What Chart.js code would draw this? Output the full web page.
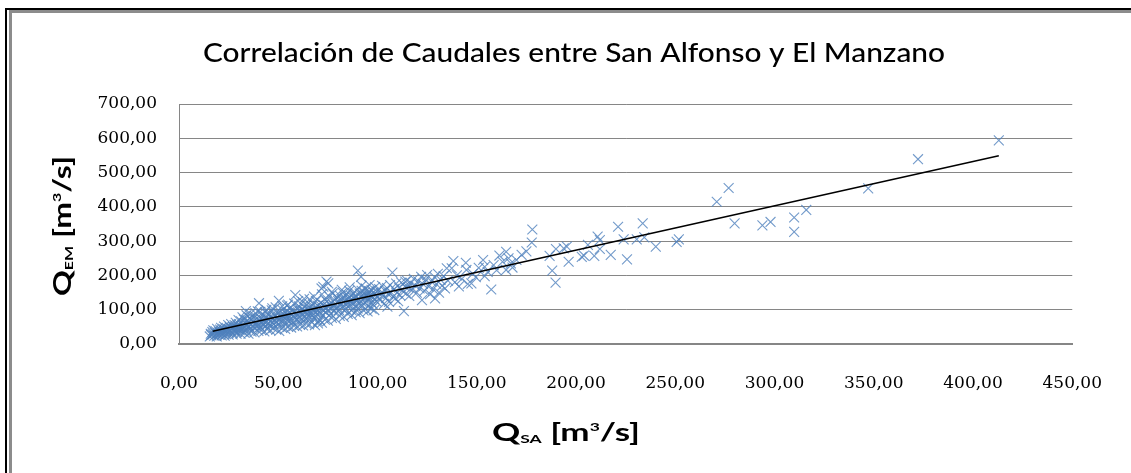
<!DOCTYPE html>
<html>
<head>
<meta charset="utf-8">
<script src="https://cdn.jsdelivr.net/npm/chart.js@4.4.1/dist/chart.umd.min.js"></script>
<style>
  html, body { margin: 0; padding: 0; background: #fff; }
  canvas { display: block; }
</style>
</head>
<body>
<canvas id="qChart" width="1131" height="473"></canvas>
<script>
// Correlación de caudales San Alfonso / El Manzano
// pares [Q_SA, Q_EM] en m3/s, leídos del gráfico por tramos

const tramo15_30 = [
    [15.5,22],[16,30],[16.2,26],[16.8,35],[17,28],[17.3,40],[17.8,24],[18,33],[18.4,38],[18.9,29],
    [19.2,44],[19.6,31],[20,36],[20.3,27],[20.7,42],[21,33],[21.2,47],[21.6,38],[22,30],[22.3,44],
    [22.7,51],[23,36],[23.2,41],[23.6,29],[24,47],[24.3,39],[24.8,55],[25,34],[25.2,43],[25.6,50],
    [26,37],[26.3,58],[26.7,45],[27,32],[27.3,49],[27.7,41],[28,55],[28.2,38],[28.6,62],[29,46],
    [29.3,35],[29.7,52],[30,43],[30.2,58],[30.6,40]
];

const tramo30_50 = [
    [31,48],[31.3,66],[31.6,39],[32,55],[32.3,45],[32.7,71],[33,50],[33.3,61],[33.7,42],[33.7,96],
    [34,57],[34.4,68],[34.8,47],[35,63],[35.3,52],[35.7,76],[36,44],[36.2,59],[36.6,70],[37,53],
    [37.4,65],[37.8,48],[38,82],[38.3,58],[38.7,72],[39,51],[39.3,62],[39.7,95],[40,55],[40.3,119],
    [40.5,68],[41,49],[41.3,74],[41.7,61],[42,85],[42.3,56],[42.7,70],[43,64],[43.4,93],[43.8,52],
    [44,77],[44.3,66],[44.7,59],[45,88],[45.3,71],[45.7,54],[46,80],[46.3,67],[46.7,98],[47,62],
    [47.3,75],[47.7,58],[48,84],[48.3,70],[48.7,107],[49,65],[49.3,78],[49.7,55],[50,90],[50.3,126],
    [50.6,72]
];

const tramo50_70 = [
    [51,63],[51.3,85],[51.7,76],[52,100],[52.4,68],[52.8,88],[53,59],[53.4,81],[53.8,95],[54,73],
    [54.4,112],[54.8,84],[55,66],[55.4,92],[55.8,78],[56,104],[56.4,70],[56.8,87],[57,97],[57.3,62],
    [57.7,82],[58,118],[58.3,76],[58.6,143],[59,90],[59.4,71],[59.8,101],[60,84],[60.4,110],[60.8,77],
    [61,95],[61.4,68],[61.8,102],[62,88],[62.4,122],[62.8,80],[63,97],[63.4,107],[63.8,74],[64,93],
    [64.4,115],[64.8,86],[65,101],[65.4,79],[65.8,130],[66,96],[66.4,88],[66.8,109],[67,83],[67.4,118],
    [67.8,99],[68,76],[68.4,105],[68.8,92],[69,125],[69.4,87],[69.8,112],[70,60],[70.2,98]
];

const tramo70_100 = [
    [70.6,108],[71,70],[71,90],[71.4,120],[71.8,162],[72,101],[72.4,85],[72.7,167],[72.8,114],[73,97],
    [73.4,131],[73.8,106],[74,92],[74.3,182],[74.4,124],[74.8,110],[75.2,177],[75.2,99],[75.6,139],[76,115],
    [76.4,88],[76.8,121],[77,104],[77.4,147],[77.8,112],[78,95],[78.4,128],[78.8,117],[79,102],[79.4,136],
    [79.8,108],[80.2,125],[80.6,99],[81,141],[81.4,115],[81.8,130],[82,106],[82.4,150],[82.8,122],[83,112],
    [83.4,136],[83.8,101],[84,128],[84.4,145],[84.8,118],[85,109],[85.4,133],[85.8,155],[86,124],[86.4,114],
    [86.8,140],[87,98],[87.4,129],[87.8,148],[88,120],[88.4,135],[88.8,110],[89,142],[89.4,126],[89.8,160],
    [90,104],[90.1,214],[90.3,130],[90.7,117],[91,147],[91.4,137],[91.7,196],[91.8,124],[92,155],[92.4,112],
    [92.8,141],[93,132],[93.4,150],[93.8,120],[94,162],[94.4,138],[94.8,127],[95,146],[95.4,109],[95.8,154],
    [96,134],[96.4,143],[96.8,121],[97,158],[97.4,139],[97.8,115],[98,150],[98.4,99],[98.4,131],[98.8,166],
    [99,142],[99.4,124],[99.8,153]
];

// borde inferior y superior de la nube densa
const bordeInferior = [
    [19,22],[21.5,25],[23,24],[25,27],[27,28],[29,30],[31,30],[33,33],[35,30],[36.5,36],
    [38,34],[40,38],[41.5,40],[43,37],[44.5,43],[46,40],[47.5,46],[49,42],[50.5,38],[52,47],
    [53.5,44],[55,50],[56.5,48],[58,53],[59.5,51],[61,56],[62.5,54],[64,60],[65.5,57],[67,63],
    [68.5,55],[70,66],[72,62],[73.5,71],[75,68],[77,76],[79,73],[81,82],[83,79],[85,88],
    [87,84],[89,93],[91,90],[93,98],[95,95],[97,103]
];

const bordeSuperior = [
    [30,70],[32,78],[34,84],[36,88],[38.5,90],[41,94],[44,100],[47,104],[52,110],[55,115],
    [60,125],[63,132],[68,138],[72,145],[77,152],[82,158],[86,165],[92,170],[96,172]
];

const tramo100_135 = [
    [100.3,137],[100.8,160],[101.3,128],[101.8,149],[102.3,170],[102.8,141],[103.3,117],[103.8,155],[104.3,134],[104.8,163],
    [105,109],[105.3,146],[105.8,123],[106.3,172],[106.8,151],[107.5,208],[107.9,139],[108.4,160],[108.9,132],[109.4,176],
    [109.9,149],[110.4,125],[110.9,164],[111.4,142],[112,179],[112.5,155],[113.3,96],[113.8,168],[114,182],[114.3,147],
    [114.8,185],[115.5,165],[116,140],[116.8,178],[117.5,158],[118.3,190],[119,170],[119.8,150],[120.5,183],[121.2,162],
    [122,196],[122.4,128],[122.9,175],[123.6,155],[124.3,188],[125,201],[125.7,168],[126.5,145],[127.2,182],[128,160],
    [128.8,195],[129,133],[129.6,175],[130.4,205],[131,150],[131.8,187],[132.5,170],[133.3,198],[134,162],[134.9,221],
    [135.5,185]
];

const tramo135_255 = [
    [137.4,221],[138.2,242],[139,180],[140,200],[141,168],[142.5,190],[144.5,237],[144.8,216],[145.5,175],[147.3,177],
    [148,205],[149.5,195],[151,222],[153.2,245],[154,225],[154,198],[155.5,210],[157.3,159],[158.5,230],[160,215],
    [161.4,258],[163,240],[164.8,269],[164.8,216],[166,250],[167.2,235],[168,223],[170,245],[172.6,260],[175,270],
    [177.7,296],[178,334],[186.7,257],[188,214],[189.7,179],[189.9,277],[193.8,279],[195.4,284],[196.3,240],[202.9,254],
    [204,258],[206,289],[209.2,257],[210.9,313],[212,303],[212,277],[217.5,260],[221.2,342],[224,305],[225.7,247],
    [230.6,305],[233.6,352],[234.4,311],[240.2,284],[250.7,298],[251.8,305]
];

const tramo255_415 = [
    [270.9,415],[276.9,455],[279.9,352],[293.9,346],[298,356],[309.9,369],[309.9,327],[316,391],[347.2,454],[372.3,539],
    [413,594]
];

// linea de tendencia (extremos)
const trendSA = [17, 413];
const trendEM = [37, 549];

// marcas de los ejes
const xTicks = [0, 50, 100, 150, 200, 250, 300, 350, 400, 450];
const yTicks = [0, 100, 200, 300, 400, 500, 600, 700];

const chartTitle = 'Correlación de Caudales entre San Alfonso y El Manzano';

const scatterPoints = []
    .concat(tramo15_30, tramo30_50, tramo50_70, tramo70_100, bordeInferior, bordeSuperior,
            tramo100_135, tramo135_255, tramo255_415)
    .map(function(p) { return { x: p[0], y: p[1] }; });

const trendPoints = trendSA.map(function(x, i) { return { x: x, y: trendEM[i] }; });

function formatComa(v) {
    return v.toFixed(2).replace('.', ',');
}

// texto con subindice / superindice, escalado a un largo dado
function drawRich(ctx, parts, cx, baseline, targetLen) {
    let total = 0;
    parts.forEach(function(p) {
        ctx.font = 'bold ' + p.size + 'px Lato, sans-serif';
        p.w = ctx.measureText(p.t).width;
        total += p.w;
    });
    const k = targetLen / total;
    ctx.save();
    ctx.translate(cx, baseline);
    ctx.scale(k, 1);
    let x = -total / 2;
    parts.forEach(function(p) {
        ctx.font = 'bold ' + p.size + 'px Lato, sans-serif';
        ctx.fillText(p.t, x, p.dy || 0);
        x += p.w;
    });
    ctx.restore();
}

const framePlugin = {
    id: 'frame',
    beforeDraw: function(chart) {
        const ctx = chart.ctx;
        ctx.save();
        ctx.fillStyle = '#ffffff';
        ctx.fillRect(0, 0, chart.width, chart.height);
        // doble borde del grafico
        ctx.fillStyle = '#000000';
        ctx.fillRect(5, 8, chart.width - 5, 2);
        ctx.fillRect(5, 8, 2, chart.height - 8);
        ctx.fillStyle = '#8c8c8c';
        ctx.fillRect(9, 10, chart.width - 9, 3);
        ctx.fillRect(9, 10, 3, chart.height - 10);
        ctx.restore();
    },
    afterDraw: function(chart) {
        const ctx = chart.ctx;
        ctx.save();
        ctx.fillStyle = '#000000';
        ctx.textBaseline = 'alphabetic';
        ctx.textAlign = 'left';

        // titulo estirado al ancho del original
        ctx.font = '500 26px Lato, sans-serif';
        const tw = ctx.measureText(chartTitle).width;
        ctx.save();
        ctx.translate(574, 62);
        ctx.scale(742 / tw, 1);
        ctx.fillText(chartTitle, -tw / 2, 0);
        ctx.restore();

        const big = 24, small = 12;
        drawRich(ctx, [
            { t: 'Q', size: big },
            { t: 'SA', size: small, dy: 2 },
            { t: ' [m', size: big },
            { t: '3', size: small, dy: -10 },
            { t: '/s]', size: big }
        ], 566, 441, 148);

        ctx.translate(71, 226);
        ctx.rotate(-Math.PI / 2);
        drawRich(ctx, [
            { t: 'Q', size: big },
            { t: 'EM', size: small, dy: 2 },
            { t: ' [m', size: big },
            { t: '3', size: small, dy: -10 },
            { t: '/s]', size: big }
        ], 0, 0, 140);
        ctx.restore();
    }
};

const tickFont = { family: '"DejaVu Serif", serif', size: 17 };

new Chart(document.getElementById('qChart'), {
    type: 'scatter',
    data: {
        datasets: [{
            type: 'line',
            data: trendPoints,
            borderColor: '#000000',
            borderWidth: 1.5,
            pointRadius: 0,
            fill: false,
            order: 0
        }, {
            data: scatterPoints,
            pointStyle: 'crossRot',
            pointRadius: 7,
            borderColor: 'rgba(79, 129, 189, 0.8)',
            backgroundColor: 'rgba(79, 129, 189, 0.8)',
            pointBorderWidth: 1.1,
            showLine: false,
            order: 1
        }]
    },
    options: {
        responsive: false,
        animation: false,
        layout: { padding: { top: 104, right: 48, bottom: 0, left: 0 } },
        plugins: {
            legend: { display: false },
            tooltip: { enabled: false }
        },
        scales: {
            x: {
                type: 'linear',
                min: 0,
                max: 450,
                afterBuildTicks: function(scale) {
                    scale.ticks = xTicks.map(function(v) { return { value: v }; });
                },
                afterFit: function(scale) { scale.height = 129; },
                grid: { display: false, drawTicks: false },
                border: { display: true, color: '#868686', width: 2 },
                ticks: {
                    padding: 29,
                    color: '#000000',
                    font: tickFont,
                    maxRotation: 0,
                    callback: formatComa
                }
            },
            y: {
                min: 0,
                max: 700,
                afterBuildTicks: function(scale) {
                    scale.ticks = yTicks.map(function(v) { return { value: v }; });
                },
                afterFit: function(scale) { scale.width = 179; },
                grid: { color: '#868686', lineWidth: 1, drawTicks: false },
                border: { display: true, color: '#868686', width: 1 },
                ticks: {
                    padding: 22,
                    color: '#000000',
                    font: tickFont,
                    callback: formatComa
                }
            }
        }
    },
    plugins: [framePlugin]
});
</script>
</body>
</html>
